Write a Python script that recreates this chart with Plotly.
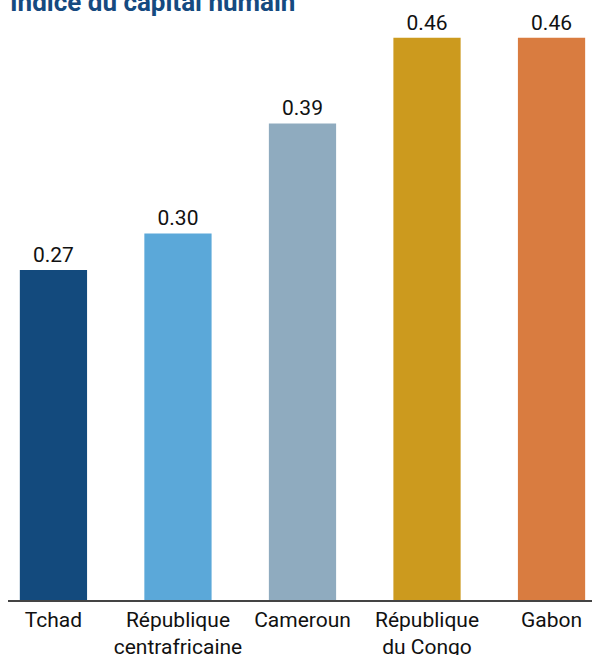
import plotly.graph_objects as go

categories = ["Tchad", "République<br>centrafricaine", "Cameroun", "République<br>du Congo", "Gabon"]
values = [0.27, 0.30, 0.39, 0.46, 0.46]
labels = ["0.27", "0.30", "0.39", "0.46", "0.46"]
colors = ["#134a7d", "#5ba8d9", "#8fabbf", "#cc9a1e", "#d97c40"]
title = "Indice du capital humain"

W, H = 592, 655
ml, mr, mt, mb = 8, 0, 20, 55

fig = go.Figure(go.Bar(
    x=list(range(len(categories))),
    y=values,
    text=labels,
    textposition="outside",
    textfont=dict(family="Roboto", size=21, color="#111111"),
    marker=dict(color=colors, line=dict(width=0)),
    width=0.54,
    cliponaxis=False,
))

fig.update_layout(
    width=W, height=H,
    margin=dict(l=ml, r=mr, t=mt, b=mb, autoexpand=False),
    plot_bgcolor="white", paper_bgcolor="white",
    font=dict(family="Roboto", size=21, color="#111111"),
    showlegend=False,
    xaxis=dict(
        range=[-0.365, 4.325],
        tickmode="array",
        tickvals=list(range(len(categories))),
        ticktext=categories,
        showline=True, linecolor="#444444", linewidth=1.5,
        ticks="", showgrid=False, zeroline=False,
        tickfont=dict(family="Roboto", size=21, color="#111111"),
    ),
    yaxis=dict(
        range=[0, 0.4746],
        visible=False, showgrid=False, zeroline=False,
    ),
    annotations=[dict(
        text="<b>" + title + "</b>",
        xref="paper", yref="paper", x=0, y=1,
        xanchor="left", yanchor="bottom", yshift=1,
        showarrow=False,
        font=dict(family="Roboto", size=26, color="#154a80"),
    )],
)

fig.write_html(
    "out.html",
    config={"displayModeBar": False},
    post_script="document.body.style.margin='0';document.body.style.overflow='hidden';",
)
